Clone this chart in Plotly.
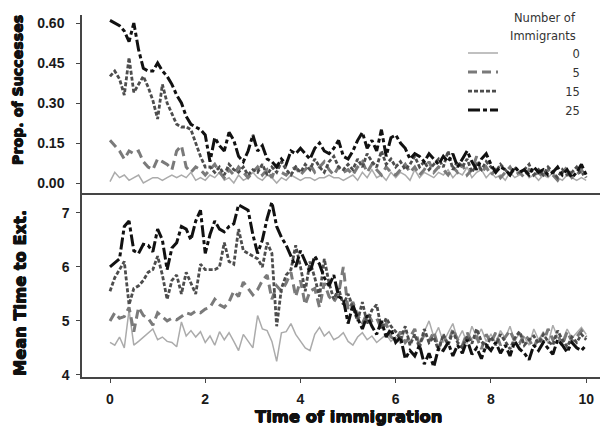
import plotly.graph_objects as go

# Time of immigration grid (0 to 10 in steps of 0.1)
time = [i / 10 for i in range(101)]

legend_labels = ["0", "5", "15", "25"]

# Proportion of successes (top panel)
succ_0 = [0.005, 0.04, 0.02, 0.03, 0.01, 0.02, 0.03, 0.00, 0.01, 0.02,
          0.02, 0.01, 0.02, 0.03, 0.02, 0.03, 0.02, 0.04, 0.01, 0.02,
          0.01, 0.03, 0.02, 0.04, 0.01, 0.02, 0.00, 0.03, 0.01, 0.02,
          0.04, 0.02, 0.01, 0.03, 0.02, 0.00, 0.02, 0.01, 0.03, 0.02,
          0.01, 0.02, 0.02, 0.01, 0.02, 0.02, 0.03, 0.02, 0.02, 0.01,
          0.02, 0.03, 0.01, 0.04, 0.02, 0.05, 0.02, 0.03, 0.01, 0.04,
          0.02, 0.04, 0.03, 0.01, 0.05, 0.02, 0.04, 0.03, 0.02, 0.04,
          0.03, 0.05, 0.02, 0.04, 0.03, 0.06, 0.02, 0.04, 0.05, 0.02,
          0.04, 0.02, 0.03, 0.01, 0.04, 0.02, 0.03, 0.05, 0.02, 0.03,
          0.01, 0.03, 0.02, 0.04, 0.02, 0.01, 0.03, 0.02, 0.01, 0.02,
          0.01]
succ_5 = [0.16, 0.14, 0.12, 0.09, 0.12, 0.11, 0.12, 0.08, 0.06, 0.05,
          0.09, 0.08, 0.07, 0.05, 0.12, 0.14, 0.06, 0.04, 0.06, 0.05,
          0.03, 0.05, 0.07, 0.04, 0.02, 0.05, 0.03, 0.06, 0.04, 0.02,
          0.04, 0.06, 0.03, 0.05, 0.02, 0.07, 0.04, 0.03, 0.05, 0.06,
          0.03, 0.05, 0.07, 0.04, 0.06, 0.08, 0.05, 0.03, 0.06, 0.04,
          0.05, 0.03, 0.06, 0.08, 0.04, 0.07, 0.05, 0.03, 0.06, 0.04,
          0.03, 0.05, 0.07, 0.04, 0.06, 0.03, 0.05, 0.08, 0.04, 0.06,
          0.05, 0.03, 0.06, 0.04, 0.07, 0.03, 0.05, 0.10, 0.04, 0.06,
          0.03, 0.05, 0.02, 0.04, 0.06, 0.03, 0.04, 0.02, 0.05, 0.03,
          0.04, 0.02, 0.05, 0.03, 0.01, 0.04, 0.06, 0.02, 0.03, 0.05,
          0.02]
succ_15 = [0.40, 0.42, 0.39, 0.33, 0.47, 0.34, 0.37, 0.40, 0.36, 0.31,
           0.24, 0.37, 0.30, 0.26, 0.22, 0.21, 0.21, 0.20, 0.15, 0.10,
           0.06, 0.06, 0.04, 0.06, 0.03, 0.07, 0.05, 0.04, 0.06, 0.03,
           0.05, 0.04, 0.07, 0.03, 0.06, 0.04, 0.08, 0.05, 0.03, 0.06,
           0.04, 0.07, 0.05, 0.09, 0.06, 0.04, 0.08, 0.10, 0.06, 0.05,
           0.07, 0.05, 0.09, 0.06, 0.11, 0.08, 0.06, 0.12, 0.07, 0.09,
           0.06, 0.08, 0.05, 0.07, 0.10, 0.06, 0.08, 0.05, 0.07, 0.09,
           0.06, 0.12, 0.05, 0.08, 0.06, 0.09, 0.04, 0.07, 0.05, 0.08,
           0.06, 0.04, 0.07, 0.05, 0.03, 0.06, 0.04, 0.05, 0.07, 0.03,
           0.05, 0.03, 0.06, 0.04, 0.02, 0.05, 0.03, 0.04, 0.06, 0.03,
           0.04]
succ_25 = [0.61, 0.60, 0.59, 0.57, 0.53, 0.60, 0.50, 0.43, 0.42, 0.42,
           0.45, 0.42, 0.40, 0.37, 0.33, 0.30, 0.25, 0.22, 0.21, 0.20,
           0.18, 0.08, 0.17, 0.14, 0.12, 0.19, 0.16, 0.10, 0.08, 0.12,
           0.18, 0.12, 0.14, 0.09, 0.08, 0.06, 0.09, 0.07, 0.12, 0.11,
           0.13, 0.11, 0.09, 0.13, 0.15, 0.12, 0.11, 0.13, 0.16, 0.10,
           0.09, 0.12, 0.16, 0.19, 0.13, 0.16, 0.12, 0.20, 0.10, 0.17,
           0.18, 0.15, 0.13, 0.09, 0.11, 0.10, 0.08, 0.11, 0.09, 0.07,
           0.10, 0.08, 0.11, 0.06, 0.09, 0.12, 0.08, 0.05, 0.09, 0.11,
           0.07, 0.04, 0.06, 0.05, 0.03, 0.06, 0.04, 0.05, 0.03, 0.06,
           0.04, 0.05, 0.03, 0.04, 0.06, 0.03, 0.05, 0.02, 0.04, 0.07,
           0.03]

# Mean time to extinction (bottom panel)
ext_0 = [4.60, 4.55, 4.70, 4.50, 5.20, 4.55, 4.62, 4.70, 4.78, 4.85,
         4.65, 4.70, 4.62, 4.60, 4.52, 4.98, 4.72, 4.82, 4.70, 4.80,
         4.60, 4.72, 4.55, 4.80, 4.65, 4.78, 4.62, 4.45, 4.75, 4.62,
         4.50, 5.10, 4.85, 4.82, 4.62, 4.25, 4.78, 4.80, 4.95, 4.75,
         4.62, 4.50, 4.45, 4.75, 4.88, 4.72, 4.80, 4.65, 4.70, 4.78,
         4.62, 4.55, 4.70, 4.78, 4.65, 4.72, 4.60, 4.68, 4.75, 4.62,
         4.70, 4.58, 4.85, 4.62, 4.75, 4.55, 4.80, 5.00, 4.70, 4.88,
         4.60, 4.78, 4.95, 4.65, 4.82, 4.58, 4.90, 4.70, 4.85, 4.62,
         4.75, 4.60, 4.82, 4.68, 4.90, 4.62, 4.78, 4.70, 4.55, 4.85,
         4.65, 4.80, 4.58, 4.92, 4.70, 4.62, 4.85, 4.68, 4.78, 4.88,
         4.75]
ext_5 = [5.00, 5.15, 5.05, 5.08, 5.25, 4.80, 5.25, 5.10, 5.05, 4.92,
         5.15, 5.08, 5.00, 5.05, 5.02, 5.08, 5.15, 5.12, 5.18, 5.15,
         5.22, 5.25, 5.40, 5.30, 5.25, 5.35, 5.55, 5.45, 5.72, 5.60,
         5.48, 5.58, 5.75, 5.85, 5.40, 5.65, 5.55, 5.70, 5.90, 5.45,
         5.75, 5.30, 5.55, 5.60, 5.25, 5.70, 5.45, 5.35, 5.50, 6.00,
         5.20, 5.35, 5.10, 4.95, 5.15, 5.00, 5.05, 4.85, 4.95, 4.70,
         4.65, 4.80, 4.60, 4.70, 4.85, 4.55, 4.75, 4.62, 4.80, 4.50,
         4.72, 4.58, 4.85, 4.65, 4.55, 4.78, 4.62, 4.70, 4.48, 4.75,
         4.60, 4.78, 4.55, 4.70, 4.82, 4.62, 4.58, 4.75, 4.65, 4.50,
         4.72, 4.60, 4.85, 4.65, 4.75, 4.55, 4.80, 4.62, 4.70, 4.82,
         4.70]
ext_15 = [5.55, 5.80, 5.95, 6.10, 5.30, 5.60, 5.65, 5.75, 5.90, 5.95,
          6.20, 5.85, 5.40, 5.75, 5.85, 5.50, 5.90, 5.70, 5.50, 6.05,
          5.95, 5.95, 5.95, 6.00, 6.45, 6.10, 6.05, 6.70, 6.30, 6.25,
          6.20, 6.15, 6.00, 6.45, 6.25, 4.90, 5.60, 5.85, 5.95, 6.40,
          6.00, 5.55, 6.10, 5.80, 5.45, 6.15, 5.70, 5.40, 5.60, 5.30,
          5.50, 5.25, 5.00, 5.35, 4.95, 5.20, 5.30, 4.85, 5.05, 4.90,
          4.80, 4.65, 4.90, 4.55, 4.75, 4.50, 4.85, 4.60, 4.70, 4.45,
          4.75, 4.55, 4.80, 4.60, 4.50, 4.72, 4.58, 4.85, 4.62, 4.52,
          4.70, 4.55, 4.75, 4.62, 4.48, 4.68, 4.80, 4.55, 4.65, 4.72,
          4.58, 4.75, 4.62, 4.55, 4.82, 4.65, 4.52, 4.70, 4.60, 4.75,
          4.65]
ext_25 = [6.00, 6.08, 6.15, 6.75, 6.85, 6.30, 6.25, 6.42, 6.40, 6.28,
          6.70, 6.50, 5.95, 6.35, 6.45, 6.75, 6.70, 6.50, 6.85, 7.05,
          6.25, 6.60, 6.85, 6.70, 6.65, 6.75, 6.80, 7.15, 7.10, 7.05,
          6.60, 6.25, 6.50, 6.90, 7.20, 6.75, 6.55, 6.40, 6.20, 6.00,
          6.30, 6.10, 5.90, 6.20, 6.05, 5.80, 5.65, 5.85, 5.45, 5.40,
          4.95, 5.30, 5.05, 4.85, 5.10, 4.90, 4.75, 5.00, 4.70, 4.85,
          4.60, 4.70, 4.30, 4.45, 4.35, 4.55, 4.20, 4.40, 4.15, 4.50,
          4.45, 4.60, 4.35, 4.55, 4.40, 4.65, 4.38, 4.50, 4.30, 4.55,
          4.45, 4.60, 4.40, 4.55, 4.35, 4.62, 4.48, 4.40, 4.28, 4.55,
          4.45, 4.60, 4.50, 4.38, 4.65, 4.55, 4.42, 4.60, 4.50, 4.45,
          4.55]

x_ticks = [0, 2, 4, 6, 8, 10]
top_ticks = [0.0, 0.15, 0.30, 0.45, 0.60]
top_ticktext = ["0.00", "0.15", "0.30", "0.45", "0.60"]
bot_ticks = [4, 5, 6, 7]

styles = [
    dict(color="#ababab", width=1.5, dash="solid"),
    dict(color="#7a7a7a", width=3, dash="9px,5px"),
    dict(color="#4d4d4d", width=2.8, dash="4px,2px"),
    dict(color="#111111", width=3, dash="12px,3px,4px,3px"),
]
top_series = [succ_0, succ_5, succ_15, succ_25]
bot_series = [ext_0, ext_5, ext_15, ext_25]

FIG = "\u2007"
pad = {"0": 9, "5": 9, "15": 8, "25": 8}

fig = go.Figure()
for lab, top, bot, st in zip(legend_labels, top_series, bot_series, styles):
    fig.add_trace(go.Scatter(x=time, y=top, xaxis="x2", yaxis="y2", mode="lines",
                             line=st, name="\u2008" + FIG * pad[lab] + lab))
    fig.add_trace(go.Scatter(x=time, y=bot, xaxis="x", yaxis="y", mode="lines",
                             line=st, showlegend=False))

tickfont = dict(family="Liberation Sans", size=14, color="#1a1a1a", weight="bold")
axcol = "#454545"

fig.update_layout(
    width=606, height=427,
    margin=dict(l=82, r=6, t=15, b=50),
    paper_bgcolor="white", plot_bgcolor="white",
    showlegend=True,
    legend=dict(x=0.7355, y=0.935, xanchor="left", yanchor="top",
                bgcolor="rgba(0,0,0,0)", tracegroupgap=0,
                font=dict(family="DejaVu Sans", size=11.5, color="#333333")),
    xaxis=dict(domain=[0, 1], anchor="y", range=[-0.588, 10.29],
               showline=True, linecolor=axcol, linewidth=1.5,
               ticks="outside", ticklen=4, tickcolor=axcol, tickwidth=1.2,
               tickvals=x_ticks, tickfont=tickfont, ticklabelstandoff=4,
               showgrid=False, zeroline=False),
    xaxis2=dict(domain=[0, 1], anchor="y2", matches="x",
                showline=True, linecolor=axcol, linewidth=1.5,
                showticklabels=False, ticks="", showgrid=False, zeroline=False),
    yaxis=dict(domain=[0, 0.5083], anchor="x", range=[3.96, 7.37],
               showline=True, linecolor=axcol, linewidth=1.5,
               ticks="outside", ticklen=4, tickcolor=axcol, tickwidth=1.2,
               tickvals=bot_ticks, tickfont=tickfont, ticklabelstandoff=4,
               showgrid=False, zeroline=False),
    yaxis2=dict(domain=[0.5083, 1], anchor="x2", range=[-0.0375, 0.63],
                showline=True, linecolor=axcol, linewidth=1.5,
                ticks="outside", ticklen=4, tickcolor=axcol, tickwidth=1.2,
                tickvals=top_ticks, ticktext=top_ticktext, tickfont=tickfont,
                ticklabelstandoff=9,
                showgrid=False, zeroline=False),
)

heavy = "0.5px 0 0 #111, -0.5px 0 0 #111, 0 0.5px 0 #111, 0 -0.5px 0 #111"
title_font = dict(family="DejaVu Sans", color="#111111", weight="bold", shadow=heavy)
fig.add_annotation(text="Prop. of Successes", xref="paper", yref="paper",
                   x=-0.1236, y=0.7928, xanchor="center", yanchor="middle",
                   textangle=-90, showarrow=False, font=dict(size=14.2, **title_font))
fig.add_annotation(text="Mean Time to Ext.", xref="paper", yref="paper",
                   x=-0.1197, y=0.232, xanchor="center", yanchor="middle",
                   textangle=-90, showarrow=False, font=dict(size=16.3, **title_font))
fig.add_annotation(text="Time of immigration", xref="x", yref="paper",
                   x=5, y=-0.108, xanchor="center", yanchor="middle",
                   showarrow=False, font=dict(size=16.4, **title_font))
leg_title_font = dict(family="DejaVu Sans", size=11.5, color="#333333")
fig.add_annotation(text="Number of", xref="paper", yref="paper",
                   x=0.9575, y=0.9917, xanchor="right", yanchor="middle",
                   showarrow=False, font=leg_title_font)
fig.add_annotation(text="Immigrants", xref="paper", yref="paper",
                   x=0.9575, y=0.942, xanchor="right", yanchor="middle",
                   showarrow=False, font=leg_title_font)

fig.write_html("out.html", config={"displayModeBar": False},
               post_script="document.body.style.margin='0';")
